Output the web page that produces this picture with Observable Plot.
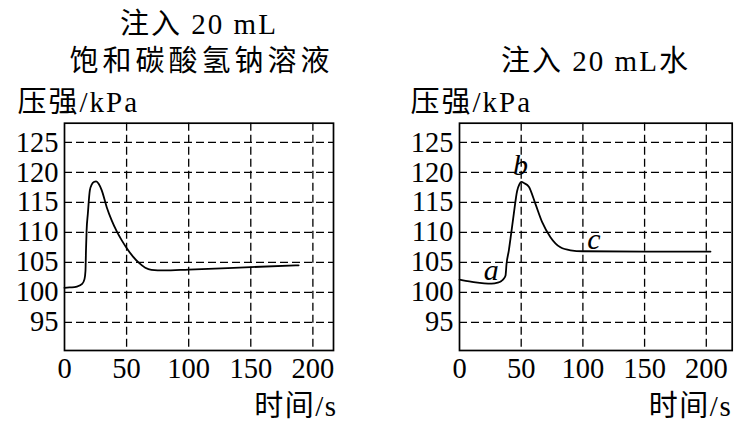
<!DOCTYPE html>
<html>
<head>
<meta charset="utf-8">
<script src="https://cdn.jsdelivr.net/npm/d3@7"></script>
<script src="https://cdn.jsdelivr.net/npm/@observablehq/plot@0.6"></script>
<style>
  html, body { margin: 0; padding: 0; background: #fff; }
  #wrap { display: flex; width: 746px; height: 423px; overflow: hidden; }
  #wrap svg { display: block; }
</style>
</head>
<body>
<div id="wrap"></div>
<script>
// ---- data ----
const xTicks = [0, 50, 100, 150, 200];
const xGrid = [50, 100, 150, 200];
const yTicks = [95, 100, 105, 110, 115, 120, 125];

const leftTitle1 = "注入 20 mL";
const leftTitle2 = "饱和碳酸氢钠溶液";
const rightTitle = "注入 20 mL水";
const yLabel = "压强/kPa";
const xLabel = "时间/s";

// left: 注入 20 mL 饱和碳酸氢钠溶液
const leftTime = [0, 2, 6, 10, 14.2, 16.1, 16.9, 17.3, 17.8, 18.8, 20.4, 22, 23.6, 25.5, 27.5, 30, 34, 38, 42, 46, 50, 55, 60, 65, 70, 80, 100, 150, 188.5];
const leftPressure = [100.75, 100.8, 100.82, 100.95, 101.4, 102.2, 103.6, 107, 110.3, 113.1, 117, 118, 118.4, 118.5, 118.1, 117, 114.2, 112, 110.2, 108.7, 107.4, 106, 104.9, 104.1, 103.75, 103.65, 103.8, 104.2, 104.5];

// right: 注入 20 mL 水
const rightTime = [0, 5, 11.4, 20, 26, 31, 34, 36, 37.3, 38.1, 40, 42, 44, 46.7, 48.5, 50, 52.5, 56.2, 61.6, 67, 73.7, 81.8, 90, 100, 150, 203.4];
const rightPressure = [102.1, 101.9, 101.7, 101.5, 101.45, 101.6, 101.9, 102.3, 102.8, 104.7, 107, 110, 113.1, 116.9, 118, 118.4, 118.2, 117.6, 114.7, 111.7, 109.2, 107.5, 107, 106.85, 106.8, 106.8];

const pointLabels = ["a", "b", "c"];
const labelTime = [25.7, 49.4, 108.9];
const labelPressure = [103.7, 121.1, 108.8];

// ---- build ----
const FONT = "'Liberation Serif', Tinos, 'DejaVu Serif', serif, 'Noto Sans CJK SC'";
const spacing = {};
spacing[leftTitle1] = "2px";
spacing[leftTitle2] = "4px";
spacing[rightTitle] = "2px";
spacing[yLabel] = "2px";
spacing[xLabel] = "1.5px";

function panel(opts) {
  const series = opts.time.map((t, i) => ({t, p: opts.pressure[i]}));
  const marks = [
    Plot.ruleX(xGrid, {stroke: "black", strokeWidth: 1.3, strokeDasharray: "8,4"}),
    Plot.ruleY(yTicks, {stroke: "black", strokeWidth: 1.3, strokeDasharray: "8,4"}),
    Plot.frame({stroke: "black", strokeWidth: 1.7}),
    Plot.line(series, {x: "t", y: "p", curve: "monotone-x", stroke: "black", strokeWidth: 1.8}),
    Plot.text([yLabel], {frameAnchor: "top-left", text: d => d, dx: opts.yLabelDx, dy: -11.7,
      textAnchor: "start", lineAnchor: "bottom", fontSize: 29}),
    Plot.text([xLabel], {frameAnchor: "bottom-right", text: d => d, dx: opts.xLabelDx, dy: 65,
      textAnchor: "end", lineAnchor: "bottom", fontSize: 29})
  ];
  opts.titles.forEach(tt => {
    marks.push(Plot.text([tt.text], {frameAnchor: "top-left", text: d => d, dx: tt.dx, dy: tt.dy,
      textAnchor: "middle", lineAnchor: "bottom", fontSize: 29}));
  });
  if (opts.labels) {
    const lab = pointLabels.map((s, i) => ({s, t: labelTime[i], p: labelPressure[i]}));
    marks.push(Plot.text(lab, {x: "t", y: "p", text: "s", fontSize: 30, fontStyle: "italic",
      textAnchor: "middle", lineAnchor: "middle"}));
  }
  const svg = Plot.plot({
    width: 373,
    height: 423,
    marginTop: 122.7,
    marginBottom: 73,
    marginLeft: opts.marginLeft,
    marginRight: opts.marginRight,
    style: {fontSize: "28.5px", background: "white", color: "black", overflow: "visible", fontFamily: FONT},
    x: {domain: opts.xDomain, ticks: xTicks, tickSize: 0, tickPadding: 7, label: null, tickFormat: d => String(d)},
    y: {domain: [90.3, 128.2], ticks: yTicks, tickSize: 0, tickPadding: 6, label: null, tickFormat: d => String(d)},
    marks
  });
  svg.querySelectorAll("text").forEach(el => {
    el.style.fontFamily = FONT;
    const s = spacing[el.textContent];
    if (s) el.style.letterSpacing = s;
  });
  return svg;
}

const wrap = document.getElementById("wrap");
wrap.appendChild(panel({
  time: leftTime, pressure: leftPressure,
  marginLeft: 64, marginRight: 40, xDomain: [0, 216.6],
  yLabelDx: -47, xLabelDx: 4,
  titles: [{text: leftTitle1, dx: 134.5, dy: -89.7}, {text: leftTitle2, dx: 137, dy: -52.7}],
  labels: false
}));
wrap.appendChild(panel({
  time: rightTime, pressure: rightPressure,
  marginLeft: 86, marginRight: 14.3, xDomain: [0, 221],
  yLabelDx: -49, xLabelDx: 0,
  titles: [{text: rightTitle, dx: 136, dy: -52.7}],
  labels: true
}));
</script>
</body>
</html>
